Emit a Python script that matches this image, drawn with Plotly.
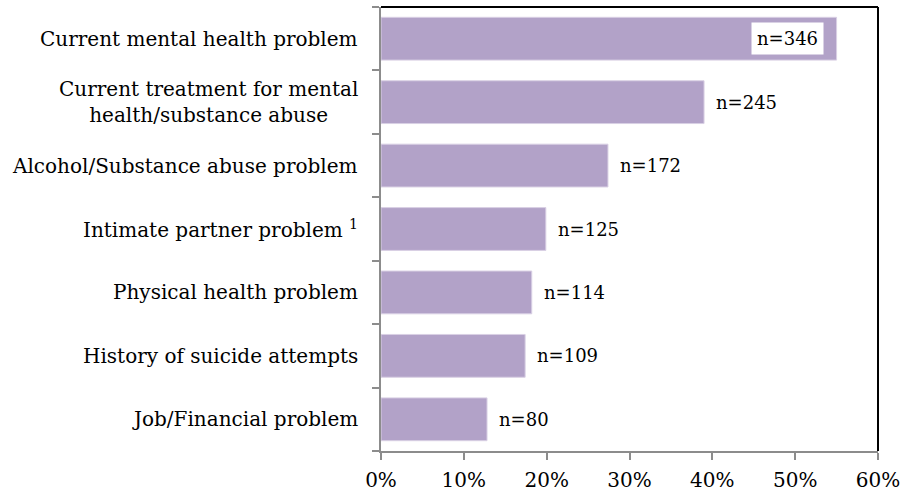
import plotly.graph_objects as go

categories = [
    "Current mental health problem",
    "Current treatment for mental<br>health/substance abuse",
    "Alcohol/Substance abuse problem",
    "Intimate partner problem <sup>1</sup>",
    "Physical health problem",
    "History of suicide attempts",
    "Job/Financial problem",
]
percent = [55.0, 39.0, 27.4, 19.9, 18.2, 17.4, 12.8]
counts = [346, 245, 172, 125, 114, 109, 80]
x_ticks = [0, 10, 20, 30, 40, 50, 60]
x_tick_labels = ["0%", "10%", "20%", "30%", "40%", "50%", "60%"]

FONT = "DejaVu Serif"
BAR = "#b2a2c8"

fig = go.Figure()
ypos = list(range(len(categories)))
fig.add_trace(go.Bar(
    x=percent, y=ypos, orientation="h",
    marker=dict(color=BAR, line=dict(color="#d9d0e4", width=1)),
    width=0.675, hoverinfo="skip",
))

annotations = []
for i, (c, p, n) in enumerate(zip(categories, percent, counts)):
    annotations.append(dict(
        x=0, xref="paper", y=i, yref="y", text=c, showarrow=False,
        xanchor="right", yanchor="middle", xshift=-21, align="center",
        font=dict(family=FONT, size=20, color="#000"),
    ))
    if i == 0:
        annotations.append(dict(
            x=p, y=i, text=f"n={n}", showarrow=False, xanchor="right",
            xshift=-13, yanchor="middle", bgcolor="white", borderpad=5,
            font=dict(family=FONT, size=18, color="#000"),
        ))
    else:
        annotations.append(dict(
            x=p, y=i, text=f"n={n}", showarrow=False, xanchor="left",
            xshift=10, yanchor="middle",
            font=dict(family=FONT, size=18, color="#000"),
        ))

fig.update_layout(
    width=907, height=499,
    margin=dict(l=381, r=25, t=7, b=46),
    plot_bgcolor="white", paper_bgcolor="white",
    showlegend=False,
    bargap=0.3,
    annotations=annotations,
    shapes=[
        dict(type="line", xref="paper", yref="paper", x0=0, x1=1, y0=1, y1=1,
             line=dict(color="black", width=2)),
        dict(type="line", xref="paper", yref="paper", x0=1, x1=1, y0=0, y1=1,
             line=dict(color="black", width=2)),
    ],
)
fig.update_xaxes(
    range=[0, 60], tickvals=x_ticks, ticktext=x_tick_labels,
    showgrid=False, zeroline=False, showline=True, linecolor="#8c8c8c", linewidth=2,
    ticks="outside", ticklen=7, tickcolor="#8c8c8c", tickwidth=2,
    ticklabelstandoff=3,
    tickfont=dict(family=FONT, size=20, color="#000"),
)
fig.update_yaxes(
    range=[len(categories) - 0.5, -0.5],
    tickvals=[k + 0.5 for k in range(-1, len(categories))],
    showticklabels=False,
    showgrid=False, zeroline=False, showline=True, linecolor="#8c8c8c", linewidth=2,
    ticks="outside", ticklen=7, tickcolor="#8c8c8c", tickwidth=2,
)

fig.write_html("out.html", config={"displayModeBar": False},
               post_script="document.body.style.margin='0px';")
